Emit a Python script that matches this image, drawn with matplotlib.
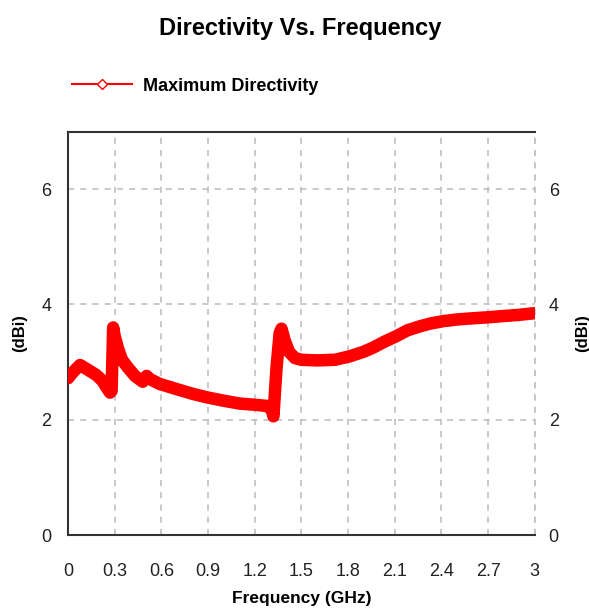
import matplotlib.pyplot as plt
from matplotlib.lines import Line2D

# ---- data ----
freq_ghz = [0, 0.03, 0.077, 0.12, 0.18, 0.22, 0.25, 0.27, 0.28, 0.29,
            0.30, 0.32, 0.345, 0.38, 0.43, 0.48, 0.505, 0.53, 0.59, 0.7,
            0.8, 0.89, 1.0, 1.105, 1.2, 1.276, 1.31, 1.32, 1.34, 1.36,
            1.372, 1.39, 1.42, 1.458, 1.5, 1.6, 1.715, 1.81, 1.9, 1.96,
            2.03, 2.11, 2.18, 2.26, 2.33, 2.41, 2.5, 2.6, 2.71, 2.8,
            2.9, 3.0]
directivity = [2.72, 2.82, 2.95, 2.88, 2.78, 2.68, 2.55, 2.47, 2.5, 3.6,
               3.45, 3.25, 3.05, 2.92, 2.76, 2.66, 2.76, 2.7, 2.62, 2.53,
               2.45, 2.39, 2.33, 2.28, 2.26, 2.24, 2.18, 2.06, 2.9, 3.5,
               3.58, 3.4, 3.18, 3.07, 3.04, 3.03, 3.04, 3.1, 3.18, 3.25,
               3.35, 3.45, 3.55, 3.62, 3.67, 3.71, 3.74, 3.76, 3.78, 3.8,
               3.82, 3.85]
x_ticks = [0, 0.3, 0.6, 0.9, 1.2, 1.5, 1.8, 2.1, 2.4, 2.7, 3]
x_ticklabels = ["0", "0.3", "0.6", "0.9", "1.2", "1.5", "1.8", "2.1", "2.4", "2.7", "3"]
y_ticks = [0, 2, 4, 6]

plt.rcParams['font.family'] = ['Liberation Sans', 'DejaVu Sans']

fig = plt.figure(figsize=(5.89, 6.12), dpi=100)
ax = fig.add_axes([0.1155, 0.1258, 0.7925, 0.6592])

ax.plot(freq_ghz, directivity, color="red", linewidth=9,
        solid_capstyle="round", solid_joinstyle="round", zorder=3)

ax.set_xlim(0, 3)
ax.set_ylim(0, 7)
ax.set_xticks(x_ticks)
ax.set_xticklabels(x_ticklabels)
ax.set_yticks(y_ticks)
ax.tick_params(length=0, labelsize=13, pad=12, colors="#222222")
ax.tick_params(axis="x", pad=20)

ax.grid(True, color="#bbbbbb", linestyle=(0, (4, 4)), linewidth=1.1)
# dashed line at the right edge (no solid right spine in the reference)
ax.axvline(3, color="#bbbbbb", linestyle=(0, (4, 4)), linewidth=1.1, clip_on=False)
for s in ["left", "bottom", "top"]:
    ax.spines[s].set_color("#333333")
    ax.spines[s].set_linewidth(1.5)
ax.spines["right"].set_visible(False)

ax.set_xlabel("Frequency (GHz)", fontsize=12.5, fontweight="bold", labelpad=8)
ax.set_ylabel("(dBi)", fontsize=12, fontweight="bold", labelpad=10)

ax2 = ax.twinx()
ax2.set_ylim(0, 7)
ax2.set_yticks(y_ticks)
ax2.tick_params(length=0, labelsize=13, pad=10, colors="#222222")
for s in ax2.spines.values():
    s.set_visible(False)
ax2.set_ylabel("(dBi)", fontsize=12, fontweight="bold", labelpad=12)

fig.text(0.51, 0.953, "Directivity Vs. Frequency", ha="center", va="center",
         fontsize=17, fontweight="bold")

proxy = Line2D([], [], color="red", linewidth=1.5, marker="D", markersize=5,
               markerfacecolor="white", markeredgecolor="red")
fig.legend([proxy], ["Maximum Directivity"], loc="center left",
           bbox_to_anchor=(0.095, 0.859), frameon=False, handlelength=3.3,
           handletextpad=0.6, prop={"size": 13, "weight": "bold"})

fig.savefig("out.png", dpi=100)
